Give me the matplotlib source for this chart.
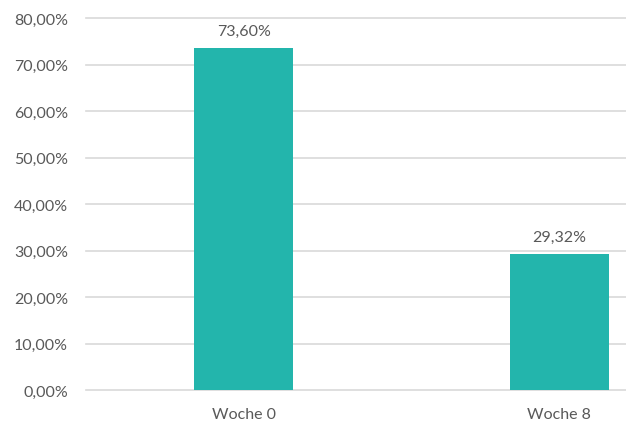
import matplotlib.pyplot as plt
from matplotlib.ticker import FuncFormatter

# data
categories = ['Woche 0', 'Woche 8']
values = [73.60, 29.32]
yticks = [0, 10, 20, 30, 40, 50, 60, 70, 80]

BAR_COLOR = '#23B5AC'
TEXT_COLOR = '#595959'
GRID_COLOR = '#D9D9D9'

plt.rcParams['font.family'] = ['Lato', 'DejaVu Sans']

fig = plt.figure(figsize=(6.26, 4.27), dpi=100)
# the chart is cut off at the right edge, so the axes run past the figure
ax = fig.add_axes([86 / 626, 36 / 427, 631 / 626, 372 / 427])

x = range(len(categories))
ax.bar(x, values, width=0.314, color=BAR_COLOR, zorder=3)

for xi, v in zip(x, values):
    ax.annotate(f'{v:.2f}%'.replace('.', ','), (xi, v), xytext=(0, 7),
                textcoords='offset points', ha='center', va='bottom',
                fontsize=11.5, color=TEXT_COLOR)

ax.set_xlim(-0.5, 1.5)
ax.set_ylim(0, 80)
ax.set_yticks(yticks)
ax.yaxis.set_major_formatter(FuncFormatter(lambda v, p: f'{v:.2f}%'.replace('.', ',')))
ax.set_xticks(list(x))
ax.set_xticklabels(categories)

ax.grid(axis='y', color=GRID_COLOR, linewidth=1.2, zorder=0)
for gl in ax.get_ygridlines():
    gl.set_clip_on(False)
ax.set_axisbelow(True)
for s in ax.spines.values():
    s.set_visible(False)
ax.tick_params(length=0, labelsize=11.5, labelcolor=TEXT_COLOR)
ax.tick_params(axis='y', pad=13)
ax.tick_params(axis='x', pad=12)

fig.savefig('out.png', dpi=100)
